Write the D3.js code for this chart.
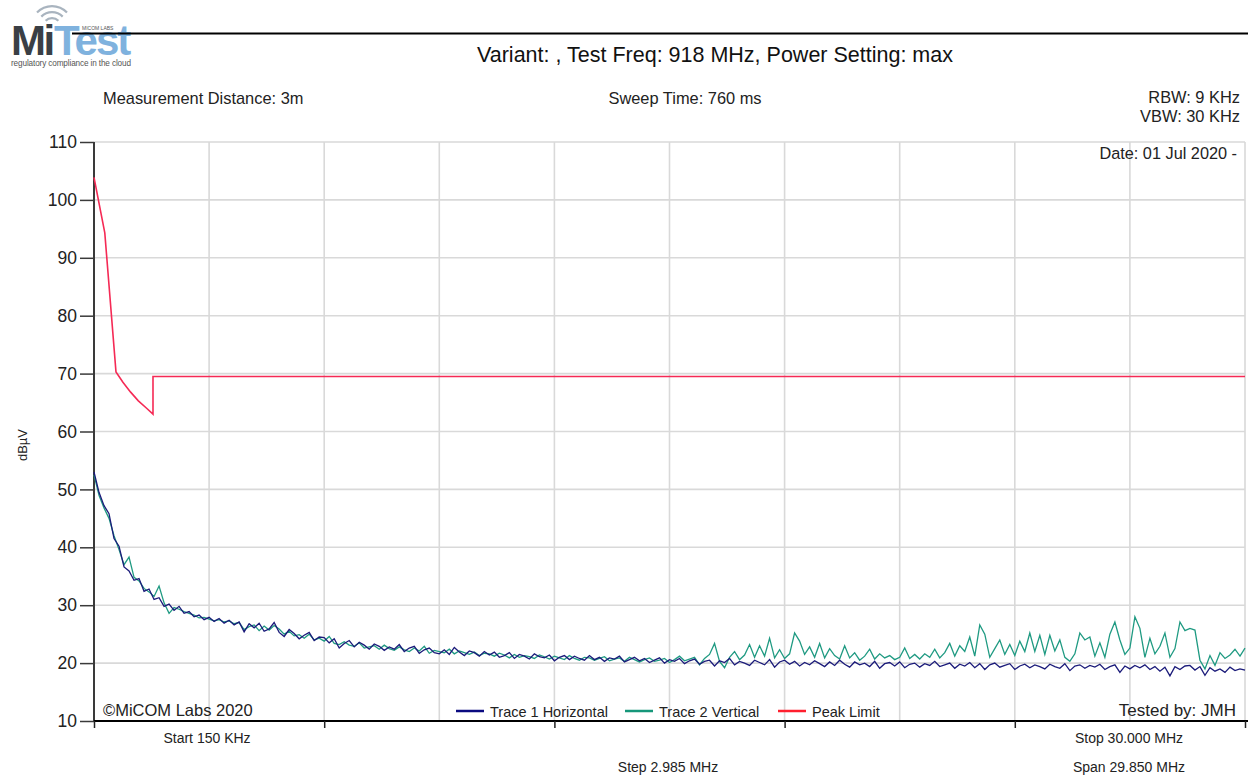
<!DOCTYPE html>
<html><head><meta charset="utf-8">
<script src="https://cdn.jsdelivr.net/npm/d3@7"></script>
<style>
html,body{margin:0;padding:0;background:#fff;}
svg{display:block;font-family:"Liberation Sans",Arial,sans-serif;}
</style></head>
<body><svg id="c" width="1248" height="777"></svg>
<script>
// ---------- data ----------
const startFreq = 0.15, stopFreq = 30.0; // MHz
const yTicks = [10,20,30,40,50,60,70,80,90,100,110];
const gridSteps = [0,1,2,3,4,5,6,7,8,9,10];
const axisTickSteps = [0,2,4,6,8,10];

const trace1 = [53.0,49.5,47.2,45.8,41.5,40.2,36.6,35.9,34.3,34.6,32.4,32.8,31.0,31.3,29.8,30.2,29.1,29.8,28.6,28.9,
28.0,28.3,27.5,27.9,27.2,27.7,26.9,27.4,26.6,27.1,
25.4,26.8,26.1,26.9,25.5,25.9,27.0,25.3,24.6,25.8,
25.1,24.2,24.8,25.3,23.9,24.5,24.4,23.5,24.2,22.6,
23.4,23.9,22.8,23.6,23.1,22.4,23.3,22.9,22.2,22.8,
22.4,23.2,22.0,22.6,22.9,21.7,22.3,22.6,21.8,21.6,
22.3,21.5,22.7,21.9,21.3,22.1,21.8,21.2,22.0,21.4,
21.9,21.0,21.3,21.8,20.8,21.5,21.2,20.7,21.6,21.1,
20.9,21.4,20.4,21.0,21.3,20.6,21.2,20.8,20.5,21.3,
20.6,21.0,20.3,20.9,20.7,21.2,20.2,20.6,21.0,20.4,
20.8,20.1,20.5,20.9,20.0,20.6,20.3,20.8,19.9,20.4,
20.7,19.8,20.3,20.5,19.5,20.4,20.1,20.8,19.7,20.3,
20.0,19.6,20.5,20.1,19.7,20.6,19.3,20.2,20.5,19.8,
20.3,19.5,20.1,19.7,20.4,19.9,19.4,20.2,19.6,20.5,
19.8,19.3,20.2,19.7,20.0,19.4,20.3,19.1,19.9,20.1,
19.5,20.2,19.2,19.8,20.0,19.3,19.9,19.6,20.3,19.4,
19.7,20.0,19.1,19.8,19.5,20.1,19.2,19.9,18.9,19.7,
20.0,19.3,19.6,19.9,18.9,19.5,19.8,19.2,19.7,19.4,
19.0,19.8,19.4,19.1,19.9,18.7,19.5,19.7,19.1,19.6,
19.3,19.8,18.9,19.4,19.7,18.4,19.5,19.0,19.6,19.2,
19.7,18.9,19.4,18.6,19.3,17.8,19.4,18.9,19.5,19.6,
18.8,19.4,17.9,19.2,18.6,19.0,18.4,19.3,18.7,19.0,18.8];

const trace2 = [52.5,49.0,46.8,45.0,42.0,39.6,37.0,38.3,34.8,34.2,32.9,32.3,31.5,33.3,30.4,28.6,29.6,29.3,28.9,28.6,
28.3,27.8,27.9,27.6,27.3,27.5,27.1,27.3,26.8,27.0,
25.8,26.3,26.6,25.6,26.4,25.7,26.5,25.9,25.0,25.5,
24.7,24.9,24.3,25.0,24.0,24.3,23.8,24.6,23.4,23.2,
23.7,23.1,22.9,23.5,22.6,22.8,23.0,22.4,23.1,22.5,
22.2,22.8,22.3,22.0,22.6,22.1,22.9,21.7,22.2,22.0,
21.8,22.4,21.6,22.1,21.8,21.5,21.9,21.3,21.7,21.6,
21.2,21.7,21.4,20.9,21.5,21.0,21.3,21.1,20.8,21.4,
21.1,20.7,21.2,20.9,20.6,21.3,20.8,20.5,21.0,20.9,
20.5,20.8,21.1,20.4,20.7,20.9,20.3,21.0,20.6,20.2,
20.6,20.9,20.3,20.5,20.8,20.1,20.6,21.2,20.4,20.7,
21.0,19.7,20.8,21.5,23.4,20.3,19.2,21.0,22.0,20.6,
21.4,23.2,21.0,23.0,21.2,24.3,20.9,22.3,20.8,21.6,
25.2,23.8,21.5,22.8,21.0,23.4,20.9,22.5,21.3,20.7,
23.0,20.9,21.8,20.5,21.2,22.4,20.7,21.6,20.9,21.3,
20.6,21.0,22.6,20.8,21.5,20.7,21.6,21.0,22.4,20.9,
21.8,23.4,21.2,23.0,22.0,24.5,21.2,26.6,25.0,21.0,
22.5,24.0,21.5,23.2,21.3,23.8,22.0,25.2,22.0,24.8,
21.5,24.8,22.1,24.0,21.0,20.3,21.6,25.2,24.0,24.5,
21.2,23.5,21.0,25.0,27.1,24.0,21.5,22.6,28.0,26.0,
21.0,24.3,21.6,22.9,25.2,21.0,22.5,27.1,25.6,26.0,
25.7,20.5,19.0,21.3,19.6,21.8,20.8,21.4,22.4,21.2,22.6];

const limitFreq = [0.15, 0.43, 0.72, 0.90, 1.10, 1.30, 1.50, 1.68, 1.68, 30.0];
const limitLevel = [103.9, 94.3, 70.3, 68.5, 66.8, 65.3, 64.1, 63.0, 69.5, 69.5];

const legendNames = ["Trace 1 Horizontal","Trace 2 Vertical","Peak Limit"];
const legendColors = ["#0a0a80","#16977a","#ff1f2e"];
const traceColors = ["#1b1b7a","#1f9a82","#f52a55"];

// ---------- drawing ----------
const svg = d3.select("#c");
const L = 94, R = 1245, T = 142, B = 721;
const x = d3.scaleLinear().domain([startFreq, stopFreq]).range([L, R]);
const y = d3.scaleLinear().domain([10, 110]).range([B, T]);
const step = (stopFreq - startFreq) / 10;

// logo
const logo = svg.append("g");
[10,16,22].forEach((r,i)=>{
  logo.append("path")
    .attr("d", d3.arc()({innerRadius:r-2.2, outerRadius:r, startAngle:-0.8, endAngle:0.8}))
    .attr("transform","translate(52,27)")
    .attr("fill", "#a9b4bf");
});
logo.append("text").attr("x",11).attr("y",55).attr("font-size",42).attr("font-weight","bold")
  .attr("fill","#3a3f45").attr("letter-spacing",-2.5).text("Mi");
logo.append("text").attr("x",54).attr("y",55).attr("font-size",42).attr("font-weight","bold")
  .attr("fill","#7fb2de").attr("letter-spacing",-2).text("Test");
logo.append("text").attr("x",82).attr("y",30).attr("font-size",5).attr("fill","#555").text("MICOM LABS");
logo.append("text").attr("x",11).attr("y",66).attr("font-size",8.2).attr("fill","#555")
  .attr("textLength",120).text("regulatory compliance in the cloud");

svg.append("line").attr("x1",72).attr("x2",1248).attr("y1",33.5).attr("y2",33.5)
  .attr("stroke","#000").attr("stroke-width",2);

// header texts
svg.append("text").attr("x",715).attr("y",62).attr("text-anchor","middle").attr("font-size",21.5)
  .attr("fill","#111").text("Variant: , Test Freq: 918 MHz, Power Setting: max");
svg.append("text").attr("x",103).attr("y",104).attr("font-size",16.4).attr("fill","#222").text("Measurement Distance: 3m");
svg.append("text").attr("x",685).attr("y",104).attr("text-anchor","middle").attr("font-size",16.4).attr("fill","#222").text("Sweep Time: 760 ms");
svg.append("text").attr("x",1240).attr("y",103).attr("text-anchor","end").attr("font-size",16.4).attr("fill","#222").text("RBW: 9 KHz");
svg.append("text").attr("x",1240).attr("y",122).attr("text-anchor","end").attr("font-size",16.4).attr("fill","#222").text("VBW: 30 KHz");

// grid
const grid = svg.append("g");
grid.selectAll("line.h").data(yTicks.filter(v=>v>10)).join("line")
  .attr("x1",L).attr("x2",R).attr("y1",d=>y(d)).attr("y2",d=>y(d))
  .attr("stroke","#d9d9d9").attr("stroke-width",1.6);
grid.selectAll("line.v").data(gridSteps.filter(s=>s>0)).join("line")
  .attr("x1",d=>x(startFreq+d*step)).attr("x2",d=>x(startFreq+d*step)).attr("y1",T).attr("y2",B)
  .attr("stroke","#d9d9d9").attr("stroke-width",1.6);

// axes
const yAxis = svg.append("g").attr("transform",`translate(${L},0)`)
  .call(d3.axisLeft(y).tickValues(yTicks).tickSize(14).tickPadding(3).tickFormat(d3.format("d")));
yAxis.select(".domain").attr("stroke","#3a3a3a").attr("stroke-width",2).attr("d",`M0,${T}V${B}`);
yAxis.selectAll(".tick line").attr("stroke","#3a3a3a").attr("stroke-width",1.5);
yAxis.selectAll(".tick text").attr("font-size",17.5).attr("fill","#222")
  .attr("font-family","'Liberation Sans',Arial,sans-serif");

const xAxis = svg.append("g").attr("transform",`translate(0,${B})`)
  .call(d3.axisBottom(x).tickValues(axisTickSteps.map(s=>startFreq+s*step)).tickSize(7).tickFormat(""));
xAxis.select(".domain").attr("stroke","#000").attr("stroke-width",2).attr("d",`M${L},0H${R+3}`);
xAxis.selectAll(".tick line").attr("stroke","#222").attr("stroke-width",1.5);

svg.append("text").attr("transform","translate(27,445) rotate(-90)").attr("text-anchor","middle")
  .attr("font-size",13).attr("fill","#222").text("dBµV");

// traces
const line = d3.line().x(d=>x(d[0])).y(d=>y(d[1]));
const n1 = trace1.length, n2 = trace2.length;
const t1 = trace1.map((v,i)=>[startFreq + i*(stopFreq-startFreq)/(n1-1), v]);
const t2 = trace2.map((v,i)=>[startFreq + i*(stopFreq-startFreq)/(n2-1), v]);
svg.append("path").attr("d",line(t2)).attr("fill","none").attr("stroke",traceColors[1]).attr("stroke-width",1.3);
svg.append("path").attr("d",line(t1)).attr("fill","none").attr("stroke",traceColors[0]).attr("stroke-width",1.3);
svg.append("path").attr("d",line(limitFreq.map((f,i)=>[f,limitLevel[i]])))
  .attr("fill","none").attr("stroke",traceColors[2]).attr("stroke-width",1.6);

// in-plot texts
svg.append("text").attr("x",1237).attr("y",159).attr("text-anchor","end").attr("font-size",16.3).attr("fill","#222").text("Date: 01 Jul 2020 -");
svg.append("text").attr("x",103).attr("y",716).attr("font-size",16.5).attr("fill","#222").text("©MiCOM Labs 2020");
svg.append("text").attr("x",1236).attr("y",716).attr("text-anchor","end").attr("font-size",17).attr("fill","#222").text("Tested by: JMH");

// legend
const legX = [456, 625, 778];
const leg = svg.append("g");
legendNames.forEach((nm,i)=>{
  leg.append("line").attr("x1",legX[i]).attr("x2",legX[i]+28).attr("y1",711).attr("y2",711)
    .attr("stroke",legendColors[i]).attr("stroke-width",2.5);
  leg.append("text").attr("x",legX[i]+34).attr("y",716.5).attr("font-size",14.5).attr("fill","#222").text(nm);
});

// x labels
svg.append("text").attr("x",207).attr("y",743).attr("text-anchor","middle").attr("font-size",14).attr("fill","#222").text("Start 150 KHz");
svg.append("text").attr("x",1129).attr("y",743).attr("text-anchor","middle").attr("font-size",14).attr("fill","#222").text("Stop 30.000 MHz");
svg.append("text").attr("x",668).attr("y",772).attr("text-anchor","middle").attr("font-size",14).attr("fill","#222").text("Step 2.985 MHz");
svg.append("text").attr("x",1129).attr("y",772).attr("text-anchor","middle").attr("font-size",14).attr("fill","#222").text("Span 29.850 MHz");
</script></body></html>
